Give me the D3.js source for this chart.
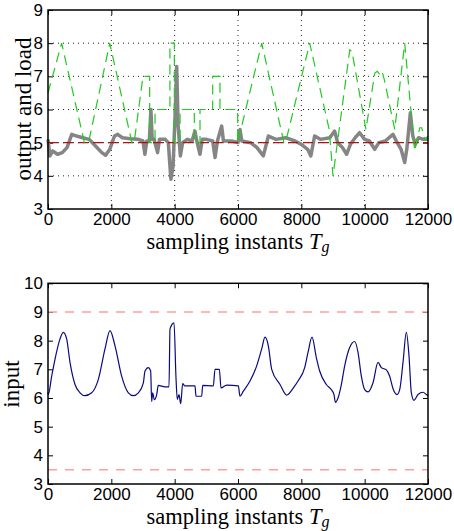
<!DOCTYPE html>
<html><head><meta charset="utf-8">
<script src="https://cdn.jsdelivr.net/npm/d3@7/dist/d3.min.js"></script>
<style>
body{margin:0;background:#fff;}
svg{display:block;}
.tick text{font-family:"Liberation Sans",Arial,sans-serif;font-size:17px;fill:#000;}
.domain{display:none;}
.lbl{font-family:"Liberation Serif","Times New Roman",serif;font-size:23px;fill:#000;}
.xl{font-size:22.5px;}
</style>
</head><body>
<svg id="c" width="454" height="531"></svg>
<script>
// ---------------- data ----------------
const xTicks = [0, 2000, 4000, 6000, 8000, 10000, 12000];
const yTicksTop = [3, 4, 5, 6, 7, 8, 9];
const yTicksBottom = [3, 4, 5, 6, 7, 8, 9, 10];

const outputT = [0,60,150,300,450,600,750,900,1100,1300,1500,1700,1820,1950,2100,2200,2350,2600,2850,3000,3060,3120,3200,3250,3290,3350,3460,3520,3700,3800,3880,3950,4020,4063,4110,4180,4250,4400,4550,4640,4700,4800,4870,5000,5200,5275,5350,5485,5540,5800,6000,6063,6120,6400,6600,6800,6960,7200,7500,7800,8000,8200,8300,8420,8600,8900,9050,9150,9300,9430,9550,9700,9840,10000,10150,10316,10450,10650,10895,11000,11150,11264,11330,11443,11520,11600,11700,11850,12000];
const outputV = [5.1,4.6,4.75,4.65,4.7,4.85,5.25,5.2,5.15,5.1,4.9,4.7,4.62,4.8,5.2,5.25,5.15,5.12,5.1,5.05,4.65,5.05,5.05,6.0,5.1,5.1,4.7,5.1,5.1,5.0,3.9,4.3,6.0,7.3,5.5,4.6,5.0,5.1,5.05,5.35,5.05,4.65,5.1,5.1,5.05,4.55,5.05,5.5,5.05,5.05,5.0,5.4,5.05,5.0,4.85,4.6,5.2,5.1,5.15,5.05,4.95,4.8,4.6,5.2,5.1,5.15,5.35,5.0,4.85,4.65,4.95,5.15,5.3,5.1,5.05,4.8,5.0,5.05,5.25,5.05,4.8,4.4,4.8,5.9,5.2,4.95,5.15,5.1,5.1];

const loadT = [0,430,1150,1280,1950,2650,2720,3000,3210,3210,3380,3380,3850,3850,3990,3990,4170,4170,4620,4620,4800,4800,5200,5200,5430,5430,5990,5990,6750,7450,7500,8264,8880,9000,9530,9600,10040,10320,10400,10480,10550,10620,10950,11264,11580,11740,11800,11900,12000];
const loadV = [6.5,8.0,5.0,5.0,8.0,5.0,5.0,7.0,7.0,5.0,5.0,6.0,6.0,8.0,8.0,5.0,5.0,6.0,6.0,5.0,5.0,6.0,6.0,7.0,7.0,6.0,6.0,5.0,8.0,5.0,5.0,8.0,5.4,4.0,7.8,7.75,5.4,7.1,7.15,7.05,7.15,6.9,5.4,8.0,4.75,5.45,5.45,5.1,5.2];

const refLevel = 5;

const inputT = [0,10,116,221,379,484,589,695,853,1011,1168,1379,1590,1800,1958,2116,2326,2537,2695,2853,3011,3063,3168,3242,3274,3305,3358,3432,3484,3695,3821,3853,3979,4042,4084,4137,4190,4253,4326,4642,4674,4853,4885,5221,5274,5411,5464,5642,6011,6063,6169,6379,6590,6748,6853,6958,7064,7327,7537,7748,7895,8106,8211,8337,8474,8579,8790,8948,9032,9074,9158,9264,9369,9527,9685,9790,9895,10001,10106,10264,10421,10527,10685,10790,10896,11022,11106,11211,11316,11400,11474,11558,11685,11843,11948,12000];
const inputV = [6.2,6.12,6.76,7.35,8.06,8.29,8.06,7.24,6.47,6.18,6.08,6.18,6.65,7.71,8.35,7.82,6.76,6.18,6.08,6.18,6.53,6.94,7.06,6.94,5.88,6.18,5.94,6.12,6.44,6.39,6.39,8.41,8.62,6.7,5.95,6.12,5.8,6.5,6.42,6.42,6.06,6.06,6.44,6.42,7.0,7.0,6.35,6.45,6.42,6.06,6.24,6.59,7.12,7.71,8.12,7.82,7.0,6.47,6.1,6.35,6.59,7.06,7.59,8.12,7.41,6.94,6.47,6.29,6.12,5.85,6.0,6.47,7.12,7.76,7.97,7.59,6.76,6.29,6.21,6.53,7.24,7.06,6.98,6.76,6.32,6.12,6.29,7.24,8.29,7.47,6.18,5.92,6.12,6.2,6.12,6.08];

const inputMax = 9;
const inputMin = 3.5;

// ---------------- layout ----------------
const svg = d3.select("#c");
const L = 48, R = 428;
const x = d3.scaleLinear().domain([0, 12000]).range([L, R]);

function panel(top, bottom, yDomain, yTicks, grid, xPad) {
  const y = d3.scaleLinear().domain(yDomain).range([bottom, top]);
  const g = svg.append("g");
  if (grid) {
    g.append("g").selectAll("line").data(xTicks.slice(1, -1)).join("line")
      .attr("x1", d => x(d)).attr("x2", d => x(d)).attr("y1", top).attr("y2", bottom)
      .attr("stroke", "#222").attr("stroke-width", 1).attr("stroke-dasharray", "1,4");
    g.append("g").selectAll("line").data(yTicks.slice(1, -1)).join("line")
      .attr("y1", d => y(d)).attr("y2", d => y(d)).attr("x1", L).attr("x2", R)
      .attr("stroke", "#222").attr("stroke-width", 1).attr("stroke-dasharray", "1,4");
  }
  const ax = (gen, tr) => g.append("g").attr("transform", tr).call(gen);
  ax(d3.axisBottom(x).tickValues(xTicks).tickSize(-5).tickPadding(xPad).tickFormat(d3.format("d")), `translate(0,${bottom})`);
  ax(d3.axisTop(x).tickValues(xTicks).tickSize(-5).tickFormat(""), `translate(0,${top})`);
  ax(d3.axisLeft(y).tickValues(yTicks).tickSize(-5).tickPadding(5).tickFormat(d3.format("d")), `translate(${L},0)`);
  ax(d3.axisRight(y).tickValues(yTicks).tickSize(-5).tickFormat(""), `translate(${R},0)`);
  g.selectAll(".tick line").attr("stroke", "#000");
  return {y, g};
}

// ---------- top panel ----------
const P1 = panel(10, 209, [3, 9], yTicksTop, true, 4);
const lineTop = d3.line().x(d => x(d[0])).y(d => P1.y(d[1]));
const plot1 = P1.g.append("g");
plot1.append("path").datum(d3.zip(outputT, outputV)).attr("d", lineTop)
  .attr("fill", "none").attr("stroke", "#858585").attr("stroke-width", 3.5).attr("stroke-linejoin", "round");
plot1.append("path").datum([[0, refLevel], [12000, refLevel]]).attr("d", lineTop)
  .attr("fill", "none").attr("stroke", "#b01010").attr("stroke-width", 1.2).attr("stroke-dasharray", "10,5");
plot1.append("path").datum(d3.zip(loadT, loadV)).attr("d", lineTop)
  .attr("fill", "none").attr("stroke", "#22c922").attr("stroke-width", 1.2).attr("stroke-dasharray", "10,6");

// ---------- bottom panel ----------
const P2 = panel(283.3, 484, [3, 10], yTicksBottom, false, 4);
const lineBot = d3.line().curve(d3.curveMonotoneX).x(d => x(d[0])).y(d => P2.y(d[1]));
const plot2 = P2.g.append("g");
[inputMax, inputMin].forEach(v => {
  plot2.append("path").datum([[0, v], [12000, v]]).attr("d", lineBot)
    .attr("fill", "none").attr("stroke", "#ff9e9e").attr("stroke-width", 1.5).attr("stroke-dasharray", "9,8");
});
plot2.append("path").datum(d3.zip(inputT, inputV)).attr("d", lineBot)
  .attr("fill", "none").attr("stroke", "#0a0a80").attr("stroke-width", 1.2).attr("stroke-linejoin", "round");

// ---------- frames ----------
[[10, 209], [283.3, 484]].forEach(([t, b]) => {
  svg.append("rect").attr("x", L).attr("y", t).attr("width", R - L).attr("height", b - t)
    .attr("fill", "none").attr("stroke", "#000").attr("stroke-width", 1.5);
});

// ---------- labels ----------
function xlabel(yb) {
  const t = svg.append("text").attr("class", "lbl xl").attr("x", (L + R) / 2).attr("y", yb).attr("text-anchor", "middle");
  t.append("tspan").text("sampling instants ");
  t.append("tspan").attr("font-style", "italic").text("T");
  t.append("tspan").attr("font-style", "italic").attr("font-size", "16px").attr("dy", 3).text("g");
}
xlabel(249);
xlabel(524);
svg.append("text").attr("class", "lbl").attr("transform", "translate(31,109) rotate(-90)")
  .attr("text-anchor", "middle").text("output and load");
svg.append("text").attr("class", "lbl").attr("transform", "translate(19,384) rotate(-90)")
  .attr("text-anchor", "middle").text("input");
</script>
</body></html>
